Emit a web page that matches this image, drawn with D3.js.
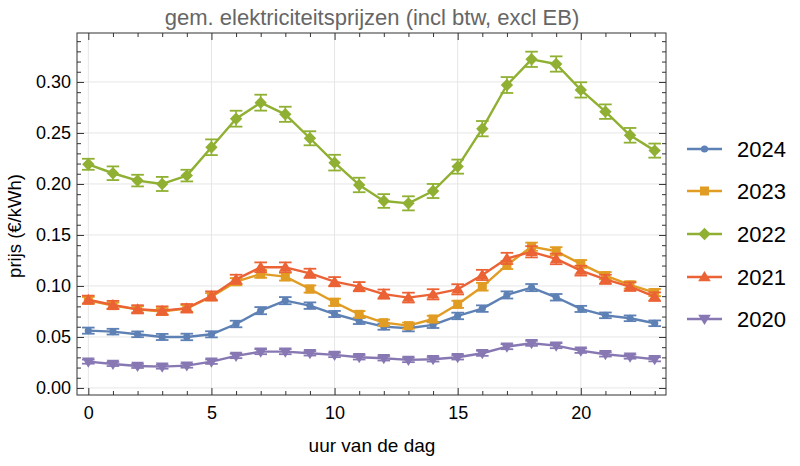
<!DOCTYPE html>
<html><head><meta charset="utf-8">
<script src="https://cdn.jsdelivr.net/npm/d3@7"></script>
<style>body{margin:0;background:#fff}svg{display:block}</style>
</head><body>
<svg id="c" width="800" height="466"></svg>
<script>
const hours = d3.range(0, 24);
const years = ["2024", "2023", "2022", "2021", "2020"];
const v2024 = [0.0562,0.0552,0.0526,0.0500,0.0500,0.0526,0.0627,0.0758,0.0856,0.0807,0.0725,0.0657,0.0601,0.0585,0.0618,0.0706,0.0778,0.0912,0.0984,0.0889,0.0775,0.0712,0.0683,0.0634];
const v2023 = [0.0860,0.0807,0.0770,0.0750,0.0780,0.0895,0.1042,0.1118,0.1091,0.0970,0.0840,0.0722,0.0640,0.0611,0.0676,0.0820,0.0993,0.1206,0.1385,0.1340,0.1216,0.1101,0.1010,0.0935];
const v2022 = [0.2193,0.2105,0.2033,0.2000,0.2082,0.2360,0.2640,0.2797,0.2683,0.2448,0.2209,0.1990,0.1833,0.1810,0.1931,0.2170,0.2542,0.2970,0.3222,0.3176,0.2922,0.2709,0.2477,0.2327];
const v2021 = [0.0865,0.0814,0.0771,0.0758,0.0781,0.0902,0.1065,0.1183,0.1183,0.1124,0.1042,0.0993,0.0920,0.0886,0.0918,0.0967,0.1108,0.1270,0.1335,0.1265,0.1150,0.1065,0.0993,0.0895];
const v2020 = [0.0258,0.0235,0.0216,0.0209,0.0219,0.0258,0.0314,0.0356,0.0356,0.0340,0.0324,0.0301,0.0291,0.0275,0.0281,0.0301,0.0340,0.0405,0.0438,0.0415,0.0366,0.0330,0.0307,0.0281];
const e2024 = [0.0030,0.0028,0.0028,0.0030,0.0032,0.0030,0.0032,0.0035,0.0035,0.0032,0.0030,0.0030,0.0030,0.0030,0.0030,0.0032,0.0032,0.0035,0.0035,0.0032,0.0030,0.0028,0.0028,0.0028];
const e2023 = [0.0032,0.0030,0.0030,0.0032,0.0032,0.0035,0.0035,0.0038,0.0038,0.0035,0.0035,0.0032,0.0030,0.0030,0.0032,0.0035,0.0038,0.0040,0.0040,0.0040,0.0038,0.0035,0.0035,0.0035];
const e2022 = [0.0054,0.0067,0.0057,0.0069,0.0057,0.0077,0.0078,0.0078,0.0074,0.0069,0.0077,0.0071,0.0067,0.0069,0.0069,0.0069,0.0075,0.0078,0.0075,0.0075,0.0075,0.0071,0.0072,0.0069];
const e2021 = [0.0040,0.0040,0.0040,0.0042,0.0042,0.0045,0.0045,0.0048,0.0048,0.0045,0.0045,0.0045,0.0045,0.0048,0.0050,0.0050,0.0050,0.0055,0.0055,0.0052,0.0048,0.0045,0.0042,0.0042];
const e2020 = [0.0020,0.0020,0.0020,0.0020,0.0020,0.0022,0.0022,0.0025,0.0025,0.0022,0.0022,0.0022,0.0022,0.0022,0.0022,0.0022,0.0025,0.0025,0.0025,0.0025,0.0022,0.0022,0.0020,0.0020];
const colors = ["#5E81B5", "#E19C24", "#8FB032", "#EB6235", "#8778B3"];
const shapes = ["circle", "square", "diamond", "up", "down"];
const xTicks = [0, 5, 10, 15, 20];
const yTicks = [0.00, 0.05, 0.10, 0.15, 0.20, 0.25, 0.30];

const values = [v2024, v2023, v2022, v2021, v2020];
const errors = [e2024, e2023, e2022, e2021, e2020];

const svg = d3.select("#c");
const L = 77, R = 666, T = 33, B = 395;
const x = d3.scaleLinear().domain([-0.46, 23.46]).range([L, R]);
const y = d3.scaleLinear().domain([-0.0069, 0.348]).range([B, T]);
const font = "'Liberation Sans', Arial, sans-serif";

// grid
svg.append("g").selectAll("line").data(xTicks).join("line")
  .attr("x1", d => x(d)).attr("x2", d => x(d)).attr("y1", T).attr("y2", B)
  .attr("stroke", "#e6e6e6").attr("stroke-width", 1);
svg.append("g").selectAll("line").data(yTicks).join("line")
  .attr("x1", L).attr("x2", R).attr("y1", d => y(d)).attr("y2", d => y(d))
  .attr("stroke", "#e6e6e6").attr("stroke-width", 1);

// axes
function styleAxis(g) {
  g.select(".domain").remove();
  g.selectAll("line").attr("stroke", "#333").attr("stroke-width", 1);
  g.selectAll("text").attr("font-family", font).attr("font-size", 18).attr("fill", "#000");
}
const minorX = d3.range(0, 24).filter(d => d % 5 !== 0);
const minorY = d3.range(0, 35).map(d => d / 100).filter((d, i) => i % 5 !== 0);

svg.append("g").attr("transform", `translate(0,${B})`)
  .call(d3.axisBottom(x).tickValues(xTicks).tickSize(-7).tickPadding(11).tickFormat(d3.format("d"))).call(styleAxis);
svg.append("g").attr("transform", `translate(0,${B})`)
  .call(d3.axisBottom(x).tickValues(minorX).tickSize(-4).tickFormat("")).call(styleAxis);
svg.append("g").attr("transform", `translate(0,${T})`)
  .call(d3.axisTop(x).tickValues(xTicks).tickSize(-7).tickFormat("")).call(styleAxis);
svg.append("g").attr("transform", `translate(0,${T})`)
  .call(d3.axisTop(x).tickValues(minorX).tickSize(-4).tickFormat("")).call(styleAxis);
svg.append("g").attr("transform", `translate(${L},0)`)
  .call(d3.axisLeft(y).tickValues(yTicks).tickSize(-7).tickPadding(6).tickFormat(d3.format(".2f"))).call(styleAxis);
svg.append("g").attr("transform", `translate(${L},0)`)
  .call(d3.axisLeft(y).tickValues(minorY).tickSize(-4).tickFormat("")).call(styleAxis);
svg.append("g").attr("transform", `translate(${R},0)`)
  .call(d3.axisRight(y).tickValues(yTicks).tickSize(-7).tickFormat("")).call(styleAxis);
svg.append("g").attr("transform", `translate(${R},0)`)
  .call(d3.axisRight(y).tickValues(minorY).tickSize(-4).tickFormat("")).call(styleAxis);

svg.append("rect").attr("x", L).attr("y", T).attr("width", R - L).attr("height", B - T)
  .attr("fill", "none").attr("stroke", "#333").attr("stroke-width", 1);

// markers
function marker(g, shape, cx, cy, color) {
  if (shape === "circle") {
    g.append("circle").attr("cx", cx).attr("cy", cy).attr("r", 3.6).attr("fill", color);
  } else if (shape === "square") {
    g.append("rect").attr("x", cx - 4.5).attr("y", cy - 4.5).attr("width", 9).attr("height", 9).attr("fill", color);
  } else if (shape === "diamond") {
    const s = 6.2;
    g.append("path").attr("d", `M${cx},${cy - s}L${cx + s},${cy}L${cx},${cy + s}L${cx - s},${cy}Z`).attr("fill", color);
  } else if (shape === "up") {
    const s = 6;
    g.append("path").attr("d", `M${cx},${cy - s}L${cx + s * 1.05},${cy + s * 0.7}L${cx - s * 1.05},${cy + s * 0.7}Z`).attr("fill", color);
  } else {
    const s = 6;
    g.append("path").attr("d", `M${cx},${cy + s}L${cx + s * 1.05},${cy - s * 0.7}L${cx - s * 1.05},${cy - s * 0.7}Z`).attr("fill", color);
  }
}

const line = d3.line().x((d, i) => x(hours[i])).y(d => y(d));
const plot = svg.append("g");
years.forEach((yr, k) => {
  const g = plot.append("g");
  const col = colors[k];
  g.append("path").datum(values[k]).attr("d", line).attr("fill", "none")
    .attr("stroke", col).attr("stroke-width", 2.4).attr("stroke-linejoin", "round");
  values[k].forEach((v, i) => {
    const cx = x(hours[i]);
    const e = errors[k][i];
    const y1 = y(v + e), y2 = y(v - e);
    g.append("line").attr("x1", cx).attr("x2", cx).attr("y1", y1).attr("y2", y2).attr("stroke", col).attr("stroke-width", 1.6);
    g.append("line").attr("x1", cx - 6.3).attr("x2", cx + 6.3).attr("y1", y1).attr("y2", y1).attr("stroke", col).attr("stroke-width", 1.8);
    g.append("line").attr("x1", cx - 6.3).attr("x2", cx + 6.3).attr("y1", y2).attr("y2", y2).attr("stroke", col).attr("stroke-width", 1.8);
    marker(g, shapes[k], cx, y(v), col);
  });
});

// legend
const legY = [149, 191, 234, 277, 319];
years.forEach((yr, k) => {
  const g = svg.append("g");
  g.append("line").attr("x1", 687).attr("x2", 722).attr("y1", legY[k]).attr("y2", legY[k])
    .attr("stroke", colors[k]).attr("stroke-width", 2.4);
  marker(g, shapes[k], 704.5, legY[k], colors[k]);
  g.append("text").attr("x", 737).attr("y", legY[k]).attr("dy", "0.36em")
    .attr("font-family", font).attr("font-size", 22).attr("fill", "#000").text(yr);
});

// titles
svg.append("text").attr("x", 372).attr("y", 25).attr("text-anchor", "middle")
  .attr("font-family", font).attr("font-size", 22).attr("fill", "#666")
  .text("gem. elektriciteitsprijzen (incl btw, excl EB)");
svg.append("text").attr("x", 372).attr("y", 452).attr("text-anchor", "middle")
  .attr("font-family", font).attr("font-size", 19).attr("fill", "#000").text("uur van de dag");
svg.append("text").attr("transform", "translate(21,226) rotate(-90)").attr("text-anchor", "middle")
  .attr("font-family", font).attr("font-size", 18.5).attr("fill", "#000").text("prijs (€/kWh)");
</script>
</body></html>
